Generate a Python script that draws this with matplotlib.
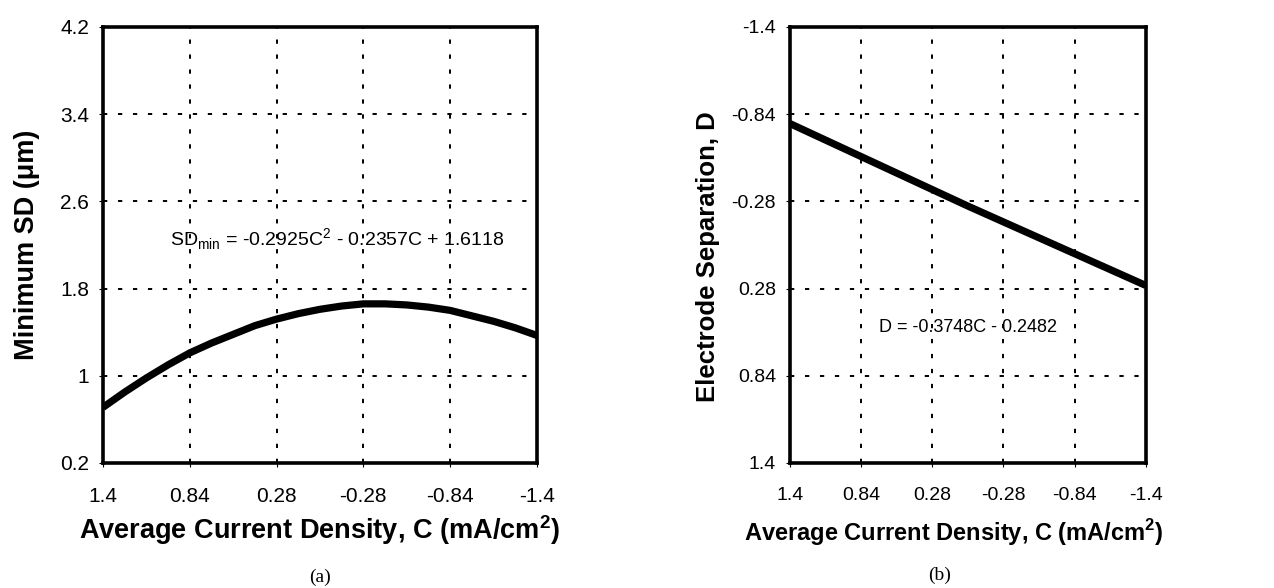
import matplotlib
matplotlib.use("Agg")
import matplotlib.pyplot as plt
import numpy as np

# ---- data ----
ticks_c = [1.4, 0.84, 0.28, -0.28, -0.84, -1.4]
ticks_sd = [0.2, 1, 1.8, 2.6, 3.4, 4.2]
ticks_d = [-1.4, -0.84, -0.28, 0.28, 0.84, 1.4]

c_sd = [1.4, 1.26, 1.12, 0.98, 0.84, 0.70, 0.56, 0.42, 0.28, 0.14, 0.0,
        -0.14, -0.28, -0.42, -0.56, -0.70, -0.84, -0.98, -1.12, -1.26, -1.4]
sd_min = [0.71, 0.85, 0.98, 1.10, 1.21, 1.30, 1.38, 1.46, 1.52, 1.57, 1.61,
          1.64, 1.66, 1.66, 1.65, 1.63, 1.60, 1.55, 1.50, 1.44, 1.37]

c_d = [1.4, 0.0, -1.4]
d_sep = [-0.78, -0.25, 0.26]

sd_text = r'SD$_{\rm min}$ = -0.2925C$^2$ - 0.2357C + 1.6118'
d_text = 'D = -0.3748C - 0.2482'
xlabel = 'Average Current Density, C (mA/cm$^\\mathbf{2}$)'

# ---- figure ----
fig = plt.figure(figsize=(12.74, 5.88), dpi=100)
sans = ['Liberation Sans', 'DejaVu Sans']
plt.rcParams['mathtext.fontset'] = 'custom'
plt.rcParams['mathtext.rm'] = 'Liberation Sans'
plt.rcParams['mathtext.bf'] = 'Liberation Sans:bold'

grid_kw = dict(color='black', linestyle=(0, (2.2, 5.5)), linewidth=1.4)


def style_axes(ax, size):
    for s in ax.spines.values():
        s.set_linewidth(2.6)
    ax.tick_params(direction='out', length=3, width=0.8, labelsize=size)
    ax.tick_params(axis='x', pad=14)
    ax.tick_params(axis='y', pad=7)
    for lab in ax.get_xticklabels() + ax.get_yticklabels():
        lab.set_family(sans)
    ax.grid(True, **grid_kw)
    ax.set_axisbelow(True)


# left panel
ax1 = fig.add_axes([0.0808, 0.2126, 0.3407, 0.7415])
ax1.plot(c_sd, sd_min, color='black', linewidth=5.2, solid_capstyle='butt',
         solid_joinstyle='round', zorder=3)
ax1.set_xlim(1.4, -1.4)
ax1.set_ylim(0.2, 4.2)
ax1.set_xticks(ticks_c)
ax1.set_xticklabels([f'{t:g}' for t in ticks_c])
ax1.set_yticks(ticks_sd)
ax1.set_yticklabels([f'{t:g}' for t in ticks_sd])
style_axes(ax1, 15)
ax1.set_xlabel(xlabel, family=sans, fontsize=19.5, fontweight='bold', va='center')
ax1.xaxis.set_label_coords(0.5, (463 - 530) / 436)
ax1.set_ylabel('Minimum SD (\u03bcm)', family=sans, fontsize=19.5, fontweight='bold', va='center')
ax1.yaxis.set_label_coords((27 - 103) / 434, 0.5)
ax1.text(-0.11, 2.25, sd_text, family=sans, fontsize=14, ha='center', va='center')

# right panel
ax2 = fig.add_axes([0.620, 0.2126, 0.2794, 0.7415])
ax2.plot(c_d, d_sep, color='black', linewidth=5.2, solid_capstyle='butt', zorder=3)
ax2.set_xlim(1.4, -1.4)
ax2.set_ylim(1.4, -1.4)
ax2.set_xticks(ticks_c)
ax2.set_xticklabels([f'{t:g}' for t in ticks_c])
ax2.set_yticks(ticks_d)
ax2.set_yticklabels([f'{t:g}' for t in ticks_d])
style_axes(ax2, 14)
ax2.set_xlabel(xlabel, family=sans, fontsize=17, fontweight='bold', va='center')
ax2.xaxis.set_label_coords((954 - 790) / 356, (463 - 533) / 436)
ax2.set_ylabel('Electrode Separation, D', family=sans, fontsize=18.5, fontweight='bold', va='center')
ax2.yaxis.set_label_coords((708 - 790) / 356, (463 - 257) / 436)
ax2.text(0.0, 0.53, d_text, family=sans, fontsize=13, ha='center', va='center')

# captions
fig.text(320 / 1274, 1 - 577 / 588, '(a)', family=['Liberation Serif', 'DejaVu Serif'],
         fontsize=14, ha='center', va='center')
fig.text(940 / 1274, 1 - 575 / 588, '(b)', family=['Liberation Serif', 'DejaVu Serif'],
         fontsize=14, ha='center', va='center')

fig.savefig('out.png', dpi=100)
